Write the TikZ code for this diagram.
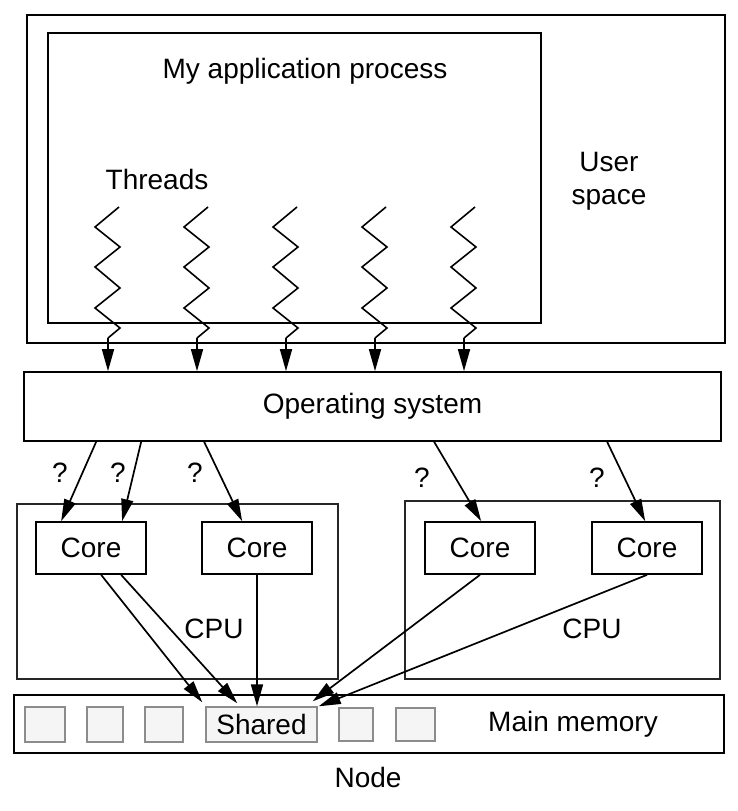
\documentclass[tikz,border=0pt]{standalone}
\usepackage{fontspec}
\setmainfont{Liberation Sans}
\usepackage{tikz}
\usetikzlibrary{positioning, arrows.meta}

\begin{document}
\begin{tikzpicture}[x=1pt, y=-1pt,
                    font=\fontsize{28}{33}\selectfont,
                    box/.style={draw, line width=1.7pt, inner sep=0pt},
                    cpubox/.style={draw=black!85, line width=1.3pt, inner sep=0pt},
                    cell/.style={draw=gray!90, fill=gray!8, line width=1.4pt, inner sep=0pt, minimum height=35pt},
                    arr/.style={-{Triangle[length=22pt, width=12pt]}, line width=1.7pt},
                    thread/.style={line width=1.6pt, line join=miter}]
                    \useasboundingbox (0,0) rectangle (737,811);

                    \node[box, minimum width=698pt, minimum height=328pt] (user) at (376,179) {};
                    \node[box, minimum width=493pt, minimum height=290pt] (app) at (294.5,178) {};
                    \node (apptitle) at (305,71) {My application process};
                    \node (threads) at (157,179) {Threads};
                    \node[align=center] (userspace) at (609,181) {User\\space};

                    \node[box, minimum width=697pt, minimum height=69pt] (os) at (372.5,406.5) {Operating system};

                    \node[cpubox, minimum width=321pt, minimum height=175pt] (cpuL) at (177.5,591.5) {};
                    \node[cpubox, minimum width=315pt, minimum height=178pt] (cpuR) at (562.5,590) {};
                    \node (cpuLlbl) at (214,629) {CPU};
                    \node (cpuRlbl) at (592,629) {CPU};

                    \node[box, minimum width=110pt, minimum height=52pt] (core1) at (91,548) {Core};
                    \node[box, minimum width=110pt, minimum height=52pt] (core2) at (257,548) {Core};
                    \node[box, minimum width=110pt, minimum height=52pt] (core3) at (480,548) {Core};
                    \node[box, minimum width=110pt, minimum height=52pt] (core4) at (647,548) {Core};

                    \node[box, minimum width=710pt, minimum height=58pt] (mem) at (369,724) {};
                    \node[cell, minimum width=40pt] (m1) at (45,724.5) {};
                    \node[cell, minimum width=36pt] (m2) at (105,724.5) {};
                    \node[cell, minimum width=38pt] (m3) at (164,724.5) {};
                    \node[cell, minimum width=111pt] (shared) at (261.5,724.5) {Shared};
                    \node[cell, minimum width=34pt, minimum height=33pt] (m5) at (356,724.5) {};
                    \node[cell, minimum width=39pt, minimum height=33pt] (m6) at (415.5,724.5) {};
                    \node (mainmem) at (573,724) {Main memory};
                    \node (nodelbl) at (368,777) {Node};

                    % threads down to the OS
                    \foreach \xc [count=\i] in {108,197,286,375,464} {
                        \draw[thread] (\xc+11,207) -- (\xc-13,227) -- (\xc+12,247) -- (\xc-13,267)
                                      -- (\xc+12,288) -- (\xc-13,308) -- (\xc+12,328) -- (\xc,338) coordinate (t\i);
                        \draw[arr] (t\i) -- (t\i |- os.north);
                    }

                    \node (q1) at (60,473) {?};
                    \node (q2) at (118,473) {?};
                    \node (q3) at (195,473) {?};
                    \node (q4) at (422,478) {?};
                    \node (q5) at (597,478) {?};

                    \draw[arr] ([xshift=73pt]os.south west) -- ([xshift=26pt]core1.north west);
                    \draw[arr] ([xshift=118pt]os.south west) -- ([xshift=87pt]core1.north west);
                    \draw[arr] ([xshift=181pt]os.south west) -- ([xshift=41pt]core2.north west);
                    \draw[arr] ([xshift=411pt]os.south west) -- ([xshift=57pt]core3.north west);
                    \draw[arr] ([xshift=584pt]os.south west) -- ([xshift=54pt]core4.north west);

                    \draw[arr] ([xshift=66pt]core1.south west) -- ([xshift=-3pt, yshift=4pt]shared.north west);
                    \draw[arr] ([xshift=86pt]core1.south west) -- ([xshift=32pt, yshift=3pt]shared.north west);
                    \draw[arr] (core2.south) -- (core2.south |- shared.north);
                    \draw[arr] (core3.south) -- ([xshift=-5pt, yshift=5pt]shared.north east);
                    \draw[arr] (core4.south) -- ([xshift=1pt]shared.north east);
                 \end{tikzpicture}
\end{document}
